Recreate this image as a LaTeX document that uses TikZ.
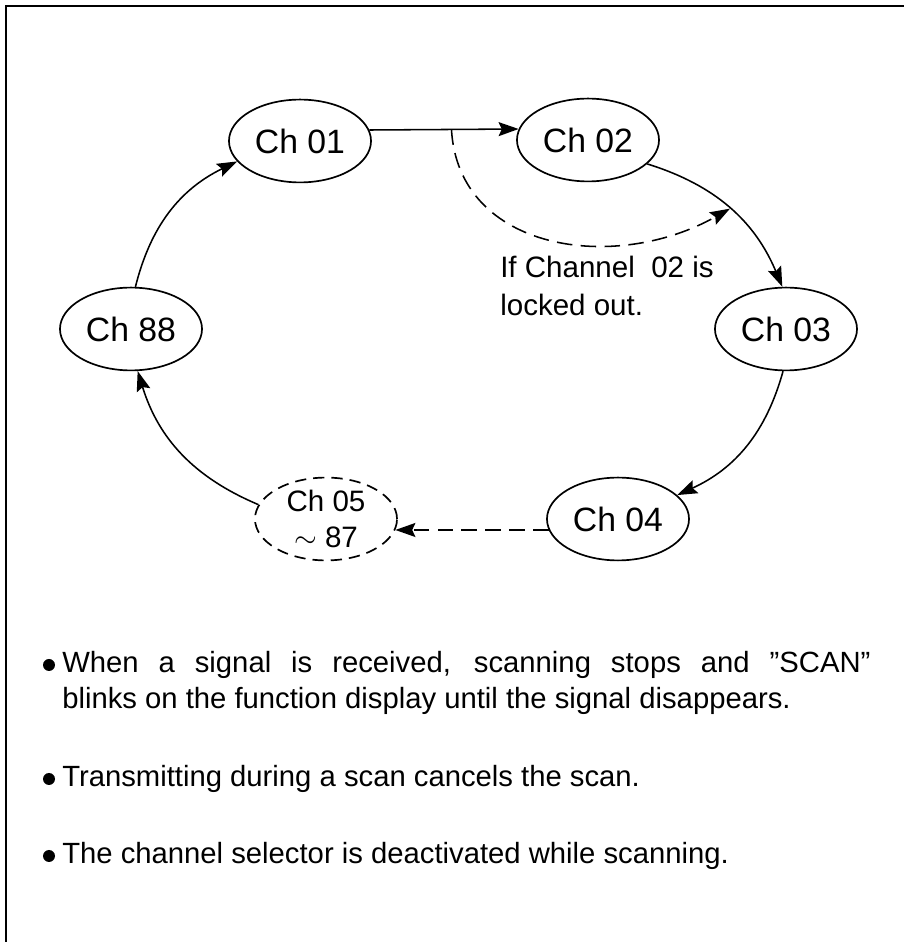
\documentclass[tikz,border=0pt]{standalone}
\usepackage{fontspec}
\setmainfont{Liberation Sans}
\usetikzlibrary{shapes.geometric,arrows.meta}

\tikzset{
        chan/.style={ellipse,draw,line width=1.2pt,minimum width=3.55cm,minimum height=2.07cm,inner sep=0pt,font=\fontsize{24}{26}\selectfont},
        flow/.style={line width=1.1pt,-{Stealth[length=5mm,width=3.5mm,inset=0.8mm]}},
        bypass/.style={flow,dash pattern=on 11pt off 6pt},
        note/.style={anchor=base west,inner sep=0pt,font=\fontsize{20.8}{25.6}\selectfont},
}

\begin{document}
\begin{tikzpicture}[x=0.025cm,y=0.025cm]
        % \draw[help lines,step=40] (0,0) grid (904,942);
        \useasboundingbox (0,0) rectangle (904,942);
        \draw[line width=1.4pt] (6,0) -- (6,936) -- (904,936);

        \node[chan] (ch01) at (300,801) {Ch 01};
        \node[chan] (ch02) at (588,802) {Ch 02};
        \node[chan] (ch03) at (786,613) {Ch 03};
        \node[chan] (ch04) at (618,423) {Ch 04};
        \node[chan,dash pattern=on 8pt off 5pt,align=center,font=\fontsize{21}{25.5}\selectfont] (ch05) at (326,423) {Ch 05\\$\sim$\;87};
        \node[chan] (ch88) at (131,613) {Ch 88};

        \draw[flow] (ch01.9) -- (ch02.171) coordinate[pos=0.55] (skipfrom);
        \draw[flow] (ch02.-22) to[bend left=25] coordinate[pos=0.5] (skipto) (ch03.95);
        \draw[flow] (ch03.-94) to[bend left=25] (ch04.22);
        \draw[bypass] (ch04.189) -- (ch05.-9);
        \draw[flow] (ch05.168) to[bend left=25] (ch88.-81);
        \draw[flow] (ch88.84) to[bend left=25] (ch01.198);
        % Channel 02 locked out
        \draw[bypass] (skipfrom) .. controls +(7,-122) and +(-115,-65) .. (skipto);
        \node[note,align=left,anchor=north west,font=\fontsize{21}{27}\selectfont] (lock) at (500,686) {If Channel\ \ 02 is\\locked out.};

        \fill (49,277) circle (6);
        \node[note,text width=20.2cm,align=justify] (tip1) at (62,269) {When a signal is received, scanning stops and ''SCAN''\linebreak blinks on the function display until the signal disappears.};
        \fill (49,163) circle (6);
        \node[note] (tip2) at (62,155) {Transmitting during a scan cancels the scan.};
        \fill (49,86) circle (6);
        \node[note] (tip3) at (62,78) {The channel selector is deactivated while scanning.};
\end{tikzpicture}
\end{document}
